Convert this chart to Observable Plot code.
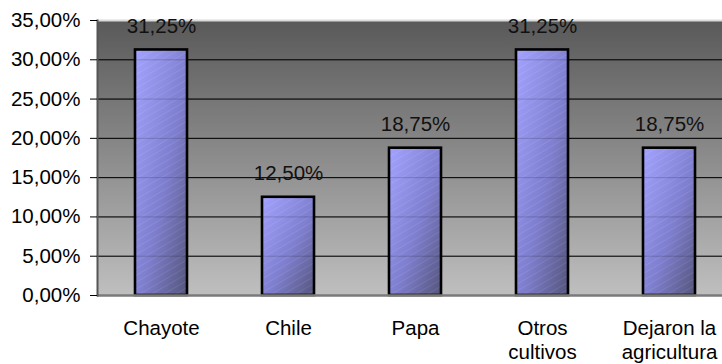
<!DOCTYPE html>
<html>
<head>
<meta charset="utf-8">
<script src="https://cdn.jsdelivr.net/npm/d3@7"></script>
<script src="https://cdn.jsdelivr.net/npm/@observablehq/plot@0.6"></script>
<style>
  html, body { margin: 0; padding: 0; background: #fff; overflow: hidden; }
  #chart { width: 722px; height: 364px; overflow: hidden; }
  svg { overflow: hidden; }
</style>
</head>
<body>
<div id="chart"></div>
<script>
const categories = ["Chayote", "Chile", "Papa", "Otros cultivos", "Dejaron la agricultura"];
const categoryLabels = ["Chayote", "Chile", "Papa", "Otros\ncultivos", "Dejaron la\nagricultura"];
const values = [0.3125, 0.125, 0.1875, 0.3125, 0.1875];
const yTicks = [0, 0.05, 0.10, 0.15, 0.20, 0.25, 0.30, 0.35];

const data = categories.map((c, i) => ({cat: c, label: categoryLabels[i], value: values[i]}));
const fmt = d => (d * 100).toFixed(2).replace(".", ",") + "%";
const FONT = "'Liberation Sans', Arial, sans-serif";
const FS = 20.5;

const chart = Plot.plot({
  width: 722,
  height: 364,
  marginLeft: 97,
  marginRight: 0,
  marginTop: 20,
  marginBottom: 69,
  style: {fontFamily: FONT, fontSize: FS + "px", background: "#fff", color: "#000", overflow: "hidden"},
  x: {domain: categories, range: [97, 733], paddingInner: 0.59, paddingOuter: 0.295, axis: null},
  y: {domain: [0, 0.35], range: [295, 20], axis: null},
  marks: [
    Plot.frame({fill: "url(#bgGrad)", stroke: "none"}),
    Plot.ruleY(yTicks.filter(d => d > 0 && d < 0.35), {stroke: "#000", strokeWidth: 1}),
    Plot.ruleY([0.35], {stroke: "#d9d9d9", strokeWidth: 2}),
    Plot.barY(data, {x: "cat", y: "value", fill: "url(#barGrad)"}),
    Plot.barY(data, {x: "cat", y: "value", fill: "url(#hatch)"}),
    Plot.ruleY(yTicks.filter(d => d > 0 && d < 0.35), {stroke: "#000", strokeOpacity: 0.18, strokeWidth: 1}),
    Plot.barY(data, {x: "cat", y: "value", fill: "none", stroke: "#000", strokeWidth: 2.6}),
    Plot.ruleY([0], {stroke: "#7a7a7a", strokeWidth: 2.5}),
    Plot.frame({anchor: "left", stroke: "#555", strokeWidth: 2}),
    Plot.axisY({ticks: yTicks, tickFormat: fmt, tickSize: 7, tickPadding: 10, fontSize: FS, stroke: "#000", label: null}),
    Plot.text(data, {x: "cat", y: "value", text: d => fmt(d.value), lineAnchor: "bottom", dy: -17, fontSize: FS, fill: "#111"}),
    Plot.text(data, {x: "cat", y: () => 0, text: "label", lineAnchor: "top", dy: 23, lineHeight: 1.15, fontSize: FS, fill: "#000"})
  ]
});

const svg = d3.select(chart.tagName.toLowerCase() === "svg" ? chart : chart.querySelector("svg"));
const defs = svg.insert("defs", ":first-child");
const bg = defs.append("linearGradient").attr("id", "bgGrad").attr("x1", 0).attr("y1", 0).attr("x2", 0).attr("y2", 1);
bg.append("stop").attr("offset", "0%").attr("stop-color", "#595959");
bg.append("stop").attr("offset", "100%").attr("stop-color", "#bfbfbf");
const bar = defs.append("linearGradient").attr("id", "barGrad").attr("x1", 0).attr("y1", 0).attr("x2", 1).attr("y2", 1);
bar.append("stop").attr("offset", "0%").attr("stop-color", "#a3a3ff");
bar.append("stop").attr("offset", "55%").attr("stop-color", "#7f7fd0");
bar.append("stop").attr("offset", "100%").attr("stop-color", "#55557c");
const hatch = defs.append("pattern").attr("id", "hatch").attr("patternUnits", "userSpaceOnUse")
  .attr("width", 6).attr("height", 6).attr("patternTransform", "rotate(-30)");
hatch.append("line").attr("x1", 0).attr("y1", 0).attr("x2", 6).attr("y2", 0)
  .attr("stroke", "#ffffff").attr("stroke-opacity", 0.08).attr("stroke-width", 2);

document.getElementById("chart").appendChild(chart);
</script>
</body>
</html>
